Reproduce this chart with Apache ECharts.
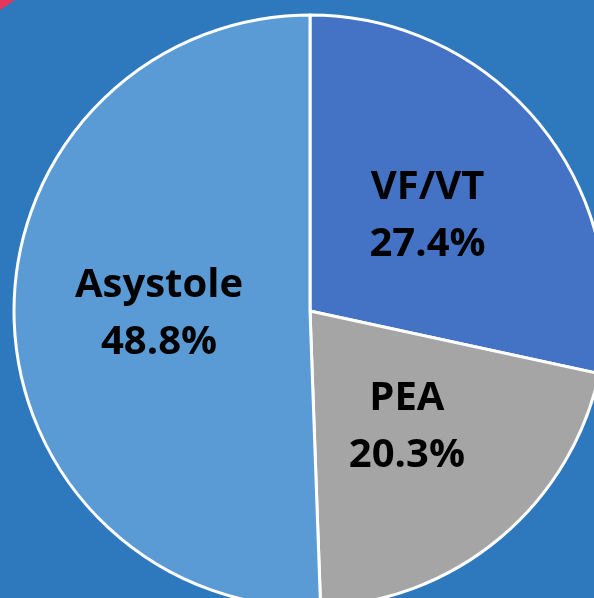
<!DOCTYPE html>
<html>
<head>
<meta charset="utf-8">
<script src="https://cdn.jsdelivr.net/npm/echarts@6/dist/echarts.min.js"></script>
<style>
  html, body { margin: 0; padding: 0; background: #2E78BD; }
  #chart { width: 594px; height: 598px; }
</style>
</head>
<body>
<div id="chart"></div>
<script>
// 心律类型占比
const rhythms = ['VF/VT', 'PEA', 'Asystole']
const shares = [27.4, 20.3, 48.8]
const sliceColors = ['#4472C4', '#A5A5A5', '#5B9BD5']

const chart = echarts.init(document.getElementById('chart'), null, { renderer: 'canvas' })

chart.setOption({
  animation: false,
  backgroundColor: '#2E78BD',
  // 左上角的红色小角 (原图装饰)
  graphic: [{
    type: 'polygon',
    shape: { points: [[0, 0], [15, 0], [0, 10]] },
    style: { fill: '#E5375B' },
  }],
  series: [{
    type: 'pie',
    center: [310, 311],
    radius: 296,
    startAngle: 90,
    clockwise: true,
    silent: true,
    itemStyle: { borderColor: '#FFFFFF', borderWidth: 3 },
    label: {
      show: true,
      position: 'inside',
      formatter: (p) => `${p.name}\n${p.value}%`,
      color: '#000000',
      fontFamily: 'Open Sans',
      fontWeight: 'bold',
      fontSize: 40,
      lineHeight: 57,
    },
    labelLine: { show: false },
    data: rhythms.map((name, i) => ({
      name,
      value: shares[i],
      itemStyle: { color: sliceColors[i] },
    })),
  }],
})
</script>
</body>
</html>
